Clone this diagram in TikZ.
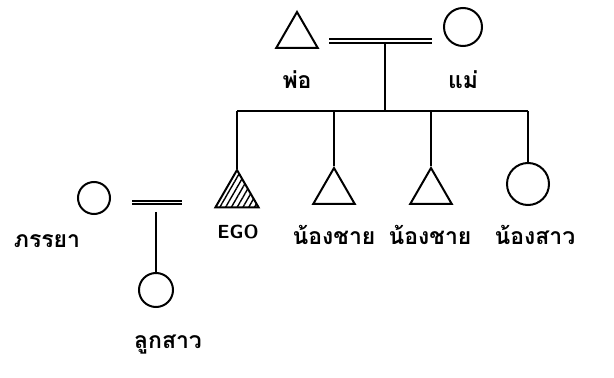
\documentclass[tikz,border=0pt]{standalone}
\usepackage{fontspec}
\newfontfamily\thaifont[Script=Thai]{Loma}
\usetikzlibrary{shapes.geometric,patterns.meta}
\tikzset{
  male/.style  ={regular polygon,regular polygon sides=3,draw,line width=2pt,
                 minimum size=48pt,inner sep=0pt},
  egobox/.style={male,minimum size=50pt,
                 pattern={Lines[angle=60,distance=5pt,line width=1.4pt]}},
  female/.style={circle,draw,line width=2pt,inner sep=0pt},
  wed/.style   ={draw,line width=1.7pt,double distance=1.8pt},
  kin/.style   ={draw,line width=2.2pt},
  lbl/.style   ={font=\thaifont\bfseries\fontsize{23}{27}\selectfont,inner sep=0pt},
  egolbl/.style={font=\sffamily\bfseries\fontsize{19}{21}\selectfont,inner sep=0pt},
}
\begin{document}
\begin{tikzpicture}[x=1pt,y=1pt]
\useasboundingbox (0,0) rectangle (614,378);

\node[male] (father) at (297,342) {};
\node[female,minimum size=38pt] (mother) at (463,351) {};
\node[lbl] (lfather) at (297,298) {พ่อ};
\node[lbl] (lmother) at (463,298) {แม่};
\coordinate (pmL) at (329,337);
\coordinate (pmR) at (432,337);
\coordinate (pmMid) at (385,335);
\draw[wed] (pmL) -- (pmR);

\coordinate (sibL) at (237,267);
\coordinate (sibR) at (528,267);
\coordinate (sibMid) at (385,267);
\draw[kin] (pmMid) -- (sibMid);
\draw[kin] (sibL) -- (sibR);

\node[egobox] (ego) at (237,183) {};
\node[male] (bro1) at (334,186) {};
\node[male] (bro2) at (431,186) {};
\node[female,minimum size=42pt] (sis) at (528,194) {};
\draw[kin] (sibL) -- (ego.north);
\draw[kin] (bro1.north |- sibL) -- (bro1.north);
\draw[kin] (bro2.north |- sibL) -- (bro2.north);
\draw[kin] (sibR) -- (sis.north);
\node[egolbl] (lego) at (238,146) {EGO};
\node[lbl] (lbro1) at (334,143) {น้องชาย};
\node[lbl] (lbro2) at (430,143) {น้องชาย};
\node[lbl] (lsis) at (535,143) {น้องสาว};

\node[female,minimum size=32pt] (wife) at (94,180) {};
\node[lbl] (lwife) at (47,137) {ภรรยา};
\coordinate (wdL) at (132,175.5);
\coordinate (wdR) at (182,175.5);
\coordinate (wdMid) at (156,166);
\draw[wed] (wdL) -- (wdR);
\node[female,minimum size=34pt] (daughter) at (156,88) {};
\draw[kin] (wdMid) -- (daughter.north);
\node[lbl] (ldaughter) at (168,33) {ลูกสาว};
\end{tikzpicture}
\end{document}
